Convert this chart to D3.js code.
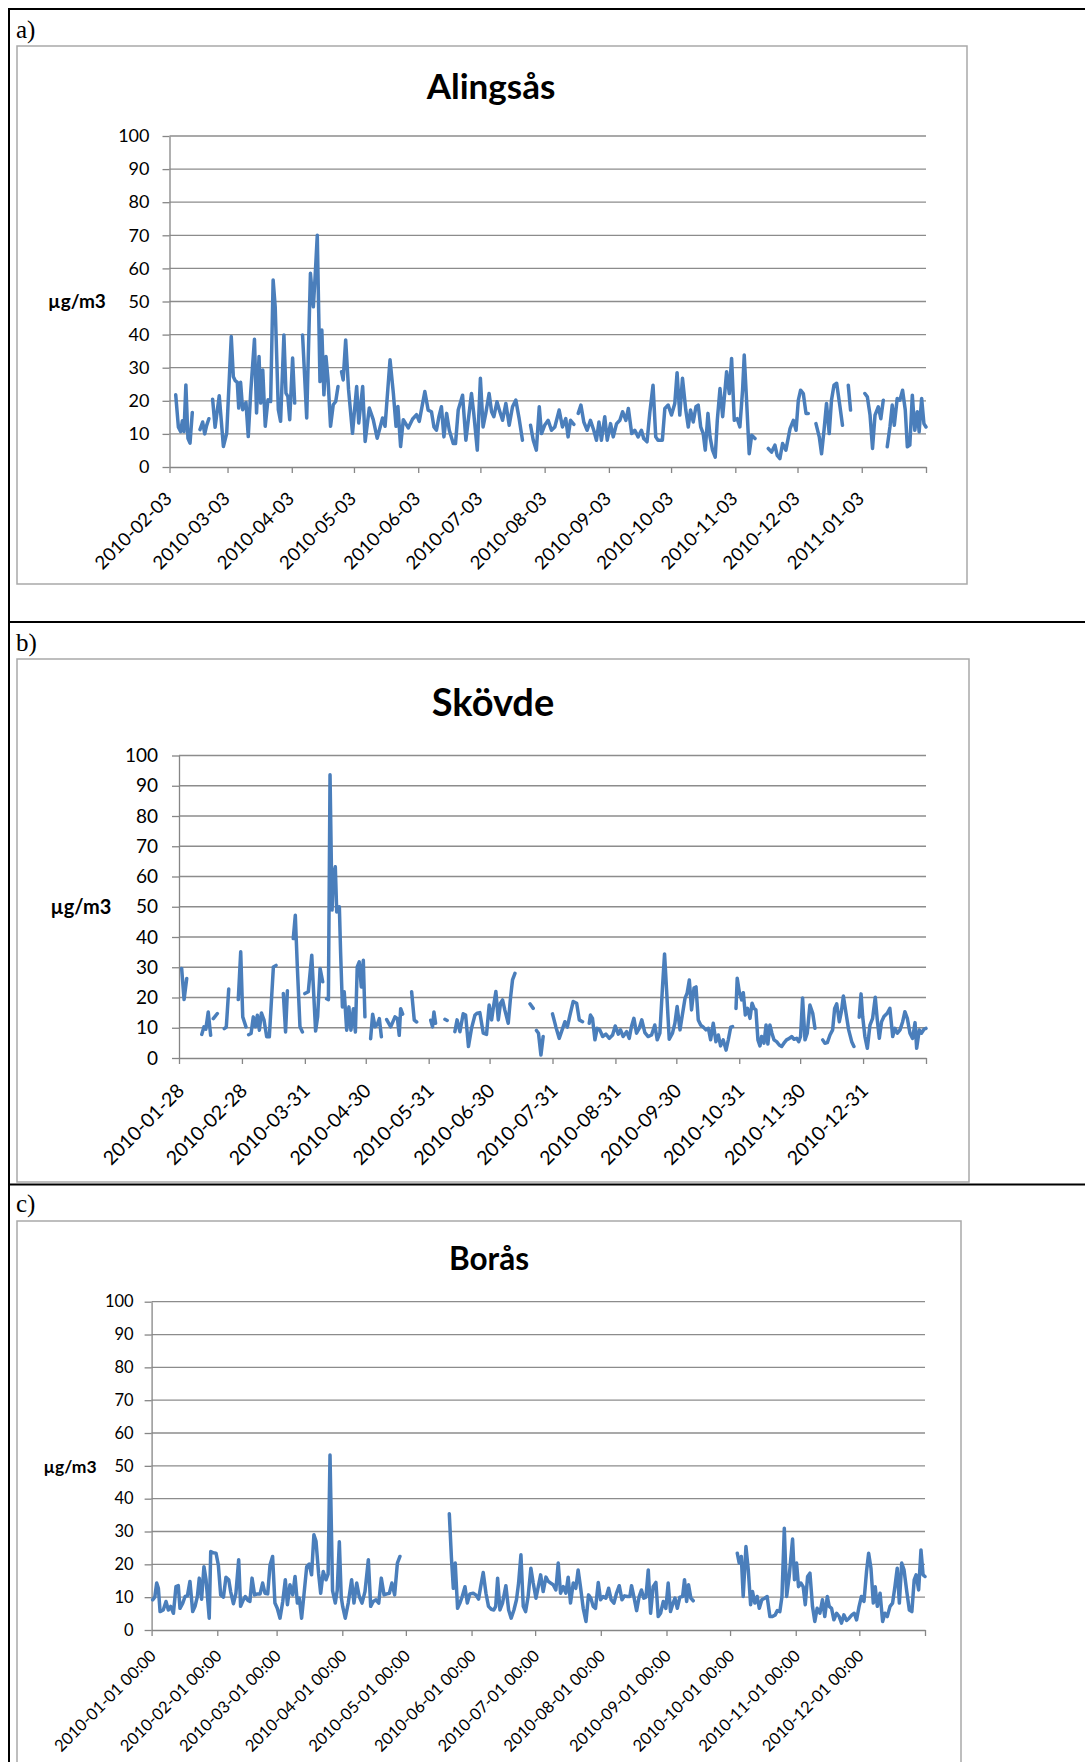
<!DOCTYPE html>
<html><head><meta charset="utf-8">
<script src="https://cdn.jsdelivr.net/npm/d3@7"></script>
<style>body{margin:0;background:#fff}svg{display:block}</style>
</head><body>
<svg id="chart" width="1085" height="1762"></svg>
<script>
// ---------- DATA ----------
const yTicks = [0,10,20,30,40,50,60,70,80,90,100];

const alingsasTicks = ["2010-02-03","2010-03-03","2010-04-03","2010-05-03","2010-06-03","2010-07-03","2010-08-03","2010-09-03","2010-10-03","2010-11-03","2010-12-03","2011-01-03"];
const skovdeTicks = ["2010-01-28","2010-02-28","2010-03-31","2010-04-30","2010-05-31","2010-06-30","2010-07-31","2010-08-31","2010-09-30","2010-10-31","2010-11-30","2010-12-31"];
const borasTicks = ["2010-01-01 00:00","2010-02-01 00:00","2010-03-01 00:00","2010-04-01 00:00","2010-05-01 00:00","2010-06-01 00:00","2010-07-01 00:00","2010-08-01 00:00","2010-09-01 00:00","2010-10-01 00:00","2010-11-01 00:00","2010-12-01 00:00"];

// [day offset from series start, µg/m3]; null = gap in measurements
const alingsas = [
[3,21.8],[4.3,12],[5.4,10.7],[6.2,14],[7,10.7],[7.9,24.8],[8.9,8.7],[9.9,7.2],[11,16.5],null,
[14.7,11.3],[16,13.6],[17,10],[17.9,12.5],[19,14.6],null,
[20.8,20.5],[22,12],[24,21.5],[26,6.2],[27.6,10.2],[29.8,39.4],[30.8,27.3],[31.8,26],[32.7,25.6],[33.4,17.8],[34.3,25.6],[35.3,17.3],[36.9,19.5],[38,9.2],[39.2,22.8],[41,38.6],[42,16.3],[43.2,33.4],[44,19.3],[45,29.3],[46.2,12.3],[47.5,20.3],[48.8,19.8],[50,56.5],[51,48.4],[52.5,17.3],[53.6,13.8],[55.2,39.9],[56.2,22.3],[57.1,21.3],[58,14.3],[59.4,32.9],[60.4,19.3],null,
[64.2,39.9],[66.2,14.8],[68,58.5],[69.4,48.4],[70.3,58],[71.3,70],[72,46.4],[72.6,25.8],[73.5,41.4],[74.5,21.8],[75.5,33.4],[76.5,26.3],[77.7,12.3],[79,18.8],[80.2,19.8],[81.3,24.3],null,
[83,28.8],[83.8,26.3],[85,38.4],[86.4,23.3],[88.3,10.2],[90.3,24.3],[91.3,13.3],[93.2,24.3],[94.4,7.7],[96.4,17.8],[98.3,14.3],[100.2,8.7],[102.8,14.8],[104,12.3],[106.4,32.4],[108,22.3],[109.3,12.3],[110.2,18.3],[111.5,6.2],[112.8,14.3],[115.2,11.8],[117.3,14.5],[119.2,15.8],[120.5,13.8],[123.2,22.8],[124.8,17.2],[126.4,16.7],[127.6,12.1],[128.8,11.1],[130,15.2],[131.2,18.2],[132.4,9.1],[133.7,16.2],[135,11.1],[136.9,7.1],[138,7.1],[139.3,17.2],[141.4,21.7],[143,8.1],[145.7,22.2],[146.8,16.2],[148.5,5.1],[150,26.8],[151.3,12.1],[152.6,16.2],[154.2,22.2],[155.4,16.7],[156.5,15.2],[158,19.7],[159.4,16.7],[160.7,14.1],[162.3,19.2],[163.9,12.6],[165.5,18.2],[167.1,20.2],[168.7,14.6],[170.3,8.1],null,
[174.2,12.6],[175.5,8.1],[177,5.1],[178.4,18.2],[179.5,10.1],[181,12.6],[182.7,14.1],[184.3,11.1],[185.9,12.1],[188,17.2],[189.6,12.1],[191.2,14.6],[192.3,9.1],[193.5,14.1],[195.1,12.9],null,
[197.2,16.2],[198.5,18.7],[199.9,13.6],[201.5,11.1],[203.1,14.1],[204.7,11.1],[206,8.1],[207.2,13.6],[208.4,8.1],[210,15.2],[211.2,8.1],[212.8,13.1],[214.1,9.1],[215.7,13.1],[217.3,14.1],[218.6,16.7],[220.2,14.1],[221.4,17.7],[223,10.1],[224.5,11.1],[226.1,9.1],[227.7,11.1],[228.8,8.6],[230.4,7.6],[231.7,16.2],[233.3,24.7],[234.6,9.1],[235.7,8.1],[237.8,8.1],[239,17.7],[240.6,18.7],[242.2,15.7],[243.8,19.2],[244.9,28.5],[246.2,15.7],[247.5,26.8],[249.1,17.2],[250.3,12.1],[251.4,17.2],[252.7,13.6],[254,18.2],[255.1,18.7],[256.3,12.1],[257.5,10.1],[258.5,5.1],[259.8,16.2],[260.8,9.1],[262,5.1],[263.3,3],[264.3,14.1],[265.6,23.7],[266.9,15.2],[268.8,28.8],[270.1,22.2],[271.2,32.8],[272.5,14.1],[273.9,14.6],[275.2,12.1],[276.5,23.2],[277.3,33.8],[278.5,19.2],[279.7,4],[280.9,9.6],[282.5,8.6],null,
[288.9,5.6],[290.5,4.5],[292.1,6.6],[293.2,3.5],[294.5,2.5],[295.8,7.1],[297.4,5.1],[299.4,11.6],[301,14.1],[302.3,11.1],[303.4,20.2],[304.5,23.2],[305.8,22.2],[307.1,16.2],[308.2,16.2],null,
[311.9,13.1],[313.5,9.1],[314.6,4],[315.8,11.1],[317,19.2],[318.3,10.1],[319.4,20.2],[320.6,24.7],[321.9,25.3],[323.5,18.2],[324.7,12.6],null,
[327.5,24.7],[328.6,17.2],null,
[335.5,22.2],[336.7,21.2],[338,15.7],[339.2,5.6],[340.4,15.7],[342,18.2],[343.2,14.6],[344.4,20.2],null,
[346.3,6.1],[347.6,12.1],[348.7,18.7],[349.7,12.6],[351.1,20.7],[352.4,20.2],[353.7,23.2],[355,17.2],[356,6.1],[357.2,6.6],[358.4,21.7],[359.6,11.1],[360.8,16.7],[361.7,10.6],[362.9,20.7],[364,13.1],[365,12.1]
];

const skovde = [
[1.3,29.6],[2.5,19.3],[3.8,26.3],null,
[11.2,7.8],[12.3,10.3],[13.2,9.5],[14.4,15.2],[15.6,7.5],null,
[16.9,13],[18.9,14.7],null,
[22.3,9.7],[23.3,10.2],[24.5,22.8],null,
[29.2,19.3],[30.4,35.1],[31.4,13.6],[33,10.3],null,
[34.3,7.7],[35.5,8.1],[36.6,13.6],[37.6,10.3],[38.6,14.1],[39.6,9.2],[40.6,14.9],[41.9,12.5],[43.2,7],[44.5,7],[46.5,30.1],[47.8,30.6],null,
[51.4,21.3],[52.5,8.6],[53.4,22.2],null,
[56.3,39.5],[57.3,47.2],[58.3,30],[59.6,10.3],[60.8,8.6],null,
[62,21.3],[63.7,21.9],[65.4,34],[66.3,22],[67.3,8.9],[68.3,13.6],[69.5,29.6],[70.8,25.2],null,
[72.7,19.6],[73.6,19.3],[74.4,93.6],[75.4,48.9],[76,59.9],[77,63.2],[77.7,48.3],[79,50],[79.6,35.1],[80.5,16.9],[81.4,21.9],[82.6,9.2],[83.7,16.9],[84.7,9.2],[85.9,16.3],[86.9,8.6],[87.8,30.1],[88.8,31.8],[89.8,23.5],[90.8,32.3],[91.6,13.6],null,
[94.4,6.4],[95.4,14.5],[96.6,10.3],[97.7,11.1],[98.7,13],[99.7,7],null,
[102.3,12.7],[104.3,10.3],[106.4,13.6],[107.6,13],[108.5,7.5],[109.2,16.3],[110.2,14.5],null,
[114.6,21.9],[115.9,12.5],[117.1,11.9],null,
[124,12.5],[124.9,10.3],[125.6,15.2],[126.4,11.5],null,
[131,12.8],[132.1,12.4],null,
[135.9,8.7],[137,12.6],[138.4,8.7],[140,14.6],[141.2,14.2],[142.6,3.8],[144.1,9.8],[145.8,14.2],[146.9,14.8],[148.2,15],[149.9,8.2],[151.5,7.8],[152.8,17.5],[154,12.6],[154.8,16.4],[156.1,22],[157.3,12.6],[158.4,18.1],[159.4,19.2],[160.5,15.9],[162.2,11.5],[163.3,19.8],[164.3,25.8],[165.5,28],null,
[172.9,17.9],[174.5,16.4],null,
[176.1,9.1],[177.1,8.2],[178.3,1],[179.4,7.1],null,
[184,14.6],[185.7,10.2],[187.3,6.5],[189,9.8],[190.1,12],[191.3,10.2],[192.6,14.2],[194.2,18.7],[195.9,18.1],[197.2,12.6],[198.8,12],null,
[202.1,11.5],[202.7,14.2],[203.7,13.1],[204.9,6],[206,9.8],[207.3,9.3],[208.7,7.1],[210.3,7.9],[212,6.5],[213.6,7.6],[214.9,10.6],[216.4,7.9],[217.5,9.3],[218.8,7.1],[220.5,8.7],[221.8,6.5],[222.9,10.4],[224.1,13.1],[225.4,8.2],[226.7,9.8],[228,12.6],[229.5,8.4],[231.1,7.1],[232.8,7.6],[234.4,10.9],[235.6,6],[236.9,8.2],[238.2,23.6],[239.2,34.4],[240.2,22.5],[241.5,6.2],[243.1,8.2],[244.3,11.5],[245.4,17],[246.8,9.3],[248.1,14.8],[249.3,19.8],[250.3,21.4],[251.4,25.8],[252.5,15.9],[253.7,23.1],[254.7,23.5],[255.8,12.6],[257,10.9],[258.3,10.2],[259.6,9.3],[260.8,9.8],[261.9,6],[263.2,11.5],[264.5,5.4],[265.7,7.6],[266.8,4],[268.1,6],[269.5,2.6],[270.6,6],[271.8,10.2],[272.7,10.4],null,
[274.4,16.4],[275,26.4],[276,22],[277.2,19.2],[278,21.6],[279,14.2],[280.1,16.4],[281.3,13.1],[282.3,18.1],[283.3,16.4],[284.2,15.9],[285.2,6],[286.2,4],[287,7.1],[288.2,4.9],[289.2,10.9],[290.1,4.6],[291.1,10.9],[292.1,8.2],[293.1,6],[294.4,5.4],[295.7,4.3],[296.9,3.8],[298,4.9],[299.3,6],[300.7,6.5],[301.8,7.1],[303,6.2],[304.3,6.5],[305.3,5.4],[306.2,7.1],[307.2,19.8],[308.4,6],[309.5,8.2],[310.8,17.5],[312.2,14.8],[313.3,9.8],null,
[317.1,6],[318.2,4.9],[319.4,5.1],[320.7,7.6],[322,9.3],[323,16.4],[324,17.9],[325.3,12],[326.3,15.3],[327.3,20.5],[328.6,14.8],[329.9,9.3],[331.4,5.4],[332.5,3.8],null,
[335.1,13.5],[336,21.2],[336.8,13.7],[337.9,7.1],[339.1,3.2],[340.4,10.9],[341.7,13.1],[343,20.1],[344,12.6],[345,6.5],[346.1,12],[347.3,13.7],[348.9,14.8],[350.2,16.4],[351.6,7.1],[352.7,9.8],[353.9,8.2],[355.2,9.3],[356.5,12],[357.6,15.3],[358.8,13.1],[360.1,8.2],[361.4,6.5],[362.6,11.7],[363.4,3.2],[364.7,9.3],[365.8,8.2],[367,9.5],[368,9.8]
];

const boras = [
[0.5,9.2],[1.5,10],[2.4,14.3],[3.2,12.7],[4,5.6],[5.5,6.1],[6.8,8.7],[7.9,6.1],[9,7.2],[10.3,5.1],[11.5,13.2],[12.6,13.5],[13.4,6.6],[14.7,8.2],[15.8,10.2],[16.9,10.4],[18.1,14.8],[19.4,5.6],[20.5,7.2],[21.6,10.2],[22.5,15.8],[23.6,9.4],[24.7,19.3],[25.7,15.3],[27.2,3.6],[27.9,23.9],[29.1,23.5],[30.4,23.4],[31.5,19.8],[32.6,10.7],[33.9,10],[35.1,16.1],[36.4,15.3],[37.3,11.7],[38.6,8],[39.8,11.2],[41.1,21.4],[42,7.2],[43.3,9.2],[44.2,10.2],[45.5,9],[46.4,8.7],[47.4,15.8],[48.6,10.7],[49.9,11],[51.2,11],[52.4,14.3],[53.5,11.2],[54.8,11],[55.9,19.8],[57.1,22.4],[58.2,8.2],[59.3,6.6],[60.6,3.6],[61.9,8.7],[63.1,15.3],[64.1,7.7],[65.3,13.8],[66.6,10.7],[67.7,16.3],[68.8,8.2],[69.7,9.7],[70.8,3.6],[71.9,10.7],[73.2,19.3],[74.4,20.1],[75.5,16.8],[76.6,29],[77.6,27],[78.8,17.3],[79.8,11.2],[81,17.8],[82.3,15.3],[83.3,17],[84.2,53.3],[85.4,12],[86.7,8.2],[87.6,12],[88.6,26.9],[89.5,10],[90.2,7.1],[91.4,3.6],[92.8,8.2],[94.4,15.3],[95.5,8.2],[96.8,14.3],[98,10.2],[99.3,8.2],[100.7,11.7],[102.3,21.4],[103.4,7.2],[104.6,8.7],[105.9,9.2],[107.2,8.2],[108.4,15.8],[109.7,10.7],[111,11],[112.2,11.2],[113.4,14.3],[114.7,10.7],[116,20.4],[117.2,22.4],null,
[140.5,35.4],[141.5,22],[142.4,12.7],[143.3,20.4],[144.4,6.6],[145.5,8.2],[146.6,10.2],[147.9,13.2],[149,8.2],[150.2,11],[151.8,11.2],[153,10.7],[154.3,9.4],[155.3,13.2],[156.5,17.5],[157.8,11.2],[159,7.2],[160.3,6.3],[161.5,6.1],[162.4,7.2],[163.3,15.8],[164.4,6.1],[165.6,8.2],[167.2,13.5],[168.5,6.1],[169.7,3.6],[171,6.1],[172.2,9.2],[173.2,14.3],[174.3,22.9],[175.4,7.2],[176.5,5.6],[177.7,10.2],[179,18.8],[180.1,14.3],[181.4,9.7],[182.5,13.2],[183.6,16.8],[184.8,11.7],[186.1,16.1],[187.2,14.8],[188.3,14.3],[189.5,13.8],[190.8,12.2],[191.9,20.4],[193,11.2],[194.3,13.2],[195.5,11.2],[196.6,16.1],[197.7,8.2],[199,14.3],[200.2,12.7],[201.3,18.3],[202.4,13.2],[203.7,6.6],[205,2.6],[206.2,10.7],[207.3,9.7],[208.4,7.2],[209.5,6.6],[210.8,14.5],[211.9,9.2],[213.1,10.2],[214.4,9.7],[215.7,12.7],[216.9,9.2],[218.2,8.2],[219.4,11.2],[220.7,13.5],[222,9.2],[223.2,10.4],[224.5,10.2],[225.7,10.2],[226.5,13.5],[227.6,10.2],[228.9,5.9],[230.1,10.2],[231.2,12.2],[232.3,9.7],[233.3,10],[234.4,18.3],[235.5,5.1],[236.7,13.2],[238,14.5],[239.1,4.1],[240.2,5.1],[241.5,8.7],[242.7,6.6],[243.8,14.3],[244.9,5.6],[246,8],[247,9.7],[248.1,6.6],[249.3,10],[250.6,10.2],[251.5,15.3],[252.5,8.7],[253.4,13.8],[254.5,9.7],[255.6,8.9],null,
[276.4,23.4],[277.3,20.4],[278.3,22.4],[279.2,10.2],[280.5,25.4],[281.6,18.3],[282.7,7.7],[283.6,11.7],[284.7,8.2],[285.8,10.2],[286.8,6.6],[288,9.2],[289.3,9.7],[290.5,10.2],[291.8,4.1],[293,4.1],[294.3,4.6],[295.3,5.9],[296.5,5.6],[297.5,10.2],[298.6,31],[299.7,10.2],[300.9,16.3],[302.5,27.7],[303.4,15.3],[304.4,20.4],[305.3,13.2],[306.4,14.3],[307.5,13.2],[308.5,7.7],[309.6,16.3],[310.7,17.3],[311.9,7.2],[313,2.6],[314.1,6.6],[315.4,5.1],[316.6,9.2],[317.7,4.1],[318.9,10.2],[319.8,7.2],[320.9,6.6],[322,3.1],[323.3,5.1],[324.5,4.1],[325.6,2.1],[326.7,4.6],[328,2.9],[329.2,3.6],[330.5,4.6],[331.6,5.1],[332.7,3.1],[333.9,7.2],[335,10.2],[336.2,8.7],[337.4,17.8],[338.4,23.4],[339.5,18.8],[340.6,8.2],[341.5,13.2],[342.5,7.2],[343.8,11.2],[345,2.6],[346.1,5.1],[347.2,4.1],[348.5,7.2],[349.7,8.2],[350.8,13.2],[351.9,18.8],[352.9,8.2],[354,20.4],[355.1,18.3],[356.4,11.7],[357.6,6.1],[358.8,5.6],[359.9,15.3],[360.8,16.8],[362,12.2],[363.1,24.4],[364.1,16.8],[365,16.3]
];

// ---------- PANELS ----------
const panels = [
  {letter:"a)", title:"Alingsås", start:"2010-02-03", end:"2011-02-03", data:alingsas, ticks:alingsasTicks},
  {letter:"b)", title:"Skövde", start:"2010-01-28", end:"2011-01-31", data:skovde, ticks:skovdeTicks},
  {letter:"c)", title:"Borås", start:"2010-01-01", end:"2011-01-01", data:boras, ticks:borasTicks}
];
const layouts = [
  {box:[17,46,950,538], letterY:38, left:169.5, right:926, top:136, bottom:467, titleX:491, titleY:99, titleSize:35, tick:18, unit:19, unitX:77, unitY:308, yPad:13, lx:3, ly:33, xtick:18.5},
  {box:[17,659,952,523], letterY:651, left:179, right:926, top:755.5, bottom:1058, titleX:493, titleY:716, titleSize:38, tick:19, unit:20, unitX:81, unitY:914, yPad:14, lx:6, ly:34, xtick:19.5},
  {box:[17,1221,944,600], letterY:1212, left:151.6, right:925, top:1301.7, bottom:1630, titleX:489, titleY:1270, titleSize:31.5, tick:16.5, unit:17.5, unitX:70, unitY:1473, yPad:11, lx:5, ly:27, xtick:16.5}
];

const svg = d3.select("#chart");
const FONT = "Lato, 'Open Sans', sans-serif";
const parse = d3.utcParse("%Y-%m-%d");
const DAY = 864e5;
const BLUE = "#4a7ebb", GRID = "#8c8c8c";

panels.forEach((p, k) => {
  const L = layouts[k];
  const g = svg.append("g");
  g.append("rect").attr("x", L.box[0]).attr("y", L.box[1]).attr("width", L.box[2]).attr("height", L.box[3])
    .attr("fill", "#fff").attr("stroke", "#a9a9a9").attr("stroke-width", 1.5);
  g.append("text").attr("x", 16).attr("y", L.letterY).attr("font-family", "'Liberation Serif', serif")
    .attr("font-size", 25).text(p.letter);
  g.append("text").attr("x", L.titleX).attr("y", L.titleY).attr("text-anchor", "middle")
    .attr("font-family", FONT).attr("font-weight", "bold").attr("font-size", L.titleSize).text(p.title);

  const start = parse(p.start), end = parse(p.end);
  const x = d3.scaleUtc().domain([start, end]).range([L.left, L.right]);
  const y = d3.scaleLinear().domain([0, 100]).range([L.bottom, L.top]);

  g.append("g").selectAll("line").data(yTicks.filter(v => v > 0)).join("line")
    .attr("x1", L.left).attr("x2", L.right).attr("y1", d => y(d)).attr("y2", d => y(d))
    .attr("stroke", GRID).attr("stroke-width", 1.3);

  const ya = g.append("g").attr("transform", `translate(${L.left},0)`)
    .call(d3.axisLeft(y).tickValues(yTicks).tickSize(7).tickSizeOuter(0).tickPadding(L.yPad));
  ya.selectAll("text").attr("font-family", FONT).attr("font-size", L.tick).attr("fill", "#000");

  const tickDates = p.ticks.map(t => parse(t.slice(0, 10))).concat([end]);
  const xa = g.append("g").attr("transform", `translate(0,${L.bottom})`)
    .call(d3.axisBottom(x).tickValues(tickDates).tickSize(6).tickSizeOuter(0)
      .tickFormat((d, i) => i < p.ticks.length ? p.ticks[i] : ""));
  xa.selectAll("text").attr("y", 0).attr("dy", 0).attr("text-anchor", "end")
    .attr("transform", `translate(${L.lx},${L.ly}) rotate(-45)`)
    .attr("font-family", FONT).attr("font-size", L.xtick).attr("fill", "#000");

  [ya, xa].forEach(a => {
    a.selectAll("path,line").attr("stroke", "#868686").attr("stroke-width", 1.3);
  });

  g.append("text").attr("x", L.unitX).attr("y", L.unitY).attr("text-anchor", "middle")
    .attr("font-family", FONT).attr("font-weight", "bold").attr("font-size", L.unit).text("µg/m3");

  const line = d3.line()
    .defined(d => d !== null)
    .x(d => x(new Date(start.getTime() + d[0] * DAY)))
    .y(d => y(d[1]));
  g.append("path").datum(p.data).attr("d", line).attr("fill", "none")
    .attr("stroke", BLUE).attr("stroke-width", 3.5).attr("stroke-linejoin", "round").attr("stroke-linecap", "round");
});

// outer document frame
const frame = svg.append("g").attr("stroke", "#000").attr("stroke-width", 2);
frame.append("line").attr("x1", 8).attr("x2", 1085).attr("y1", 9).attr("y2", 9);
frame.append("line").attr("x1", 9).attr("x2", 9).attr("y1", 8).attr("y2", 1762);
frame.append("line").attr("x1", 8).attr("x2", 1085).attr("y1", 622).attr("y2", 622);
frame.append("line").attr("x1", 8).attr("x2", 1085).attr("y1", 1184.5).attr("y2", 1184.5);
</script>
</body></html>
